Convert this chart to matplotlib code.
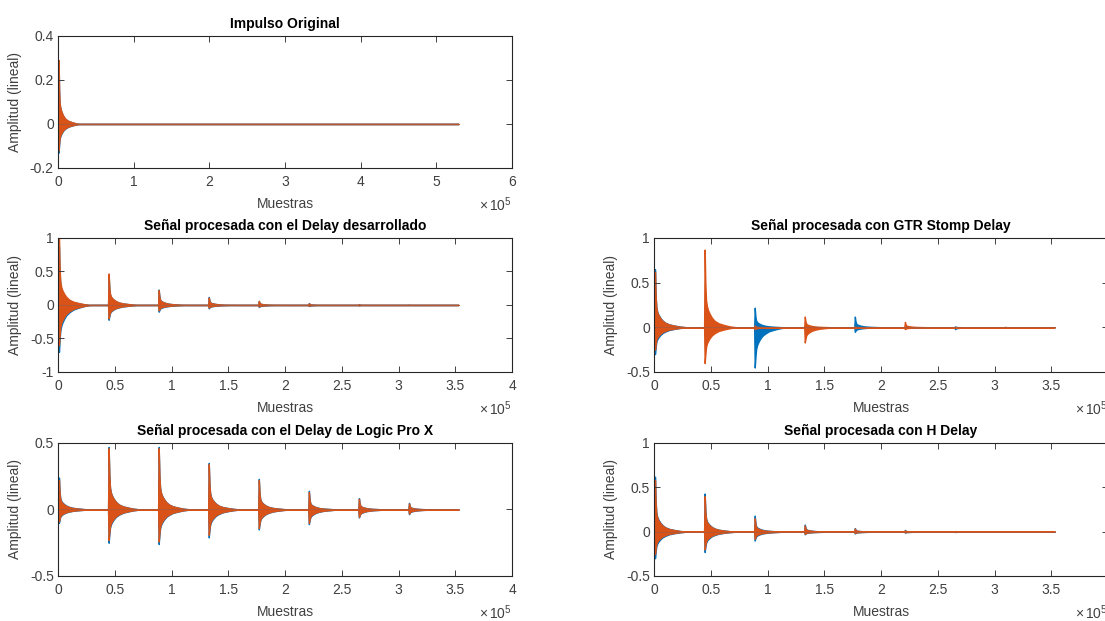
import numpy as np
import matplotlib
matplotlib.use('Agg')
import matplotlib.pyplot as plt
from matplotlib.ticker import FuncFormatter, MultipleLocator

plt.rcParams['font.family'] = ['Liberation Sans', 'DejaVu Sans']
plt.rcParams['axes.unicode_minus'] = False
plt.rcParams['mathtext.fontset'] = 'custom'
plt.rcParams['mathtext.rm'] = 'Liberation Sans'
plt.rcParams['mathtext.it'] = 'Liberation Sans'

BLUE = '#0072BD'
ORANGE = '#D95319'
TXT = '#404040'

# ---------------- data ----------------
# decay profile of one echo burst: offsets (samples after onset) and relative envelope
burst_offsets = [0, 600, 1200, 2000, 3000, 4500, 6500, 9000, 12500, 17000, 22000, 28000]
shape_up = [1.0, 0.55, 0.35, 0.27, 0.22, 0.17, 0.12, 0.08, 0.05, 0.03, 0.012, 0.0]
shape_lo = [1.0, 0.75, 0.55, 0.45, 0.38, 0.3, 0.22, 0.16, 0.1, 0.06, 0.025, 0.0]

echo_onsets = [800, 44600, 88700, 132800, 176900, 221000, 265100, 309200]
len_original = 529200
len_processed = 352800

# Impulso Original (single burst)
orig_blue_up = [0.28]
orig_blue_lo = [-0.13]
orig_orange_up = [0.29]
orig_orange_lo = [-0.12]

# Delay desarrollado
dev_blue_up = [0.87, 0.45, 0.23, 0.12, 0.06, 0.03, 0.012, 0.005]
dev_blue_lo = [-0.70, -0.22, -0.10, -0.05, -0.03, -0.015, -0.006, -0.003]
dev_orange_up = [1.00, 0.47, 0.22, 0.11, 0.06, 0.025, 0.01, 0.004]
dev_orange_lo = [-0.60, -0.20, -0.08, -0.04, -0.02, -0.01, -0.005, -0.002]

# Delay de Logic Pro X
logic_blue_up = [0.24, 0.47, 0.47, 0.35, 0.23, 0.14, 0.085, 0.05]
logic_blue_lo = [-0.10, -0.25, -0.26, -0.21, -0.15, -0.11, -0.06, -0.035]
logic_orange_up = [0.22, 0.46, 0.46, 0.34, 0.22, 0.13, 0.08, 0.045]
logic_orange_lo = [-0.09, -0.23, -0.24, -0.19, -0.14, -0.10, -0.055, -0.03]

# GTR Stomp Delay
gtr_blue_up = [0.65, 0.10, 0.22, 0.02, 0.12, 0.01, 0.01, 0.003]
gtr_blue_lo = [-0.30, -0.08, -0.45, -0.02, -0.05, -0.005, -0.02, -0.003]
gtr_orange_up = [0.62, 0.87, 0.02, 0.12, 0.01, 0.06, 0.005, 0.005]
gtr_orange_lo = [-0.25, -0.40, -0.02, -0.17, -0.01, -0.02, -0.005, -0.005]

# H Delay
hdel_blue_up = [0.62, 0.43, 0.18, 0.08, 0.04, 0.02, 0.006, 0.002]
hdel_blue_lo = [-0.30, -0.23, -0.10, -0.03, -0.02, -0.01, -0.004, -0.002]
hdel_orange_up = [0.58, 0.40, 0.15, 0.07, 0.035, 0.015, 0.005, 0.002]
hdel_orange_lo = [-0.25, -0.20, -0.08, -0.025, -0.015, -0.008, -0.003, -0.001]

titles = ['Impulso Original',
          'Señal procesada con el Delay desarrollado',
          'Señal procesada con GTR Stomp Delay',
          'Señal procesada con el Delay de Logic Pro X',
          'Señal procesada con H Delay']


def envelope(up_peaks, lo_peaks, length):
    xs, ups, los = [0], [0.0], [0.0]
    for onset, u, l in zip(echo_onsets, up_peaks, lo_peaks):
        xs.append(onset - 500)
        ups.append(0.0)
        los.append(0.0)
        for off, su, sl in zip(burst_offsets, shape_up, shape_lo):
            xs.append(onset + off)
            ups.append(u * su)
            los.append(l * sl)
    xs.append(length)
    ups.append(0.0)
    los.append(0.0)
    return np.array(xs), np.array(los), np.array(ups)


fig = plt.figure(figsize=(11.05, 6.21), dpi=100)

W = 0.4109
xl, xr = 0.0525, 0.5919
rows = [(0.7295, 0.2126), (0.401, 0.2158), (0.0725, 0.2142)]


def make_ax(x0, row, title, length, series, xmax, xstep, ylim, ystep):
    b, h = rows[row]
    ax = fig.add_axes([x0, b, W, h])
    for (up, lo, c) in series:
        x, l, u = envelope(up, lo, length)
        ax.fill_between(x, l, u, color=c, lw=1.0, edgecolor=c)
        ax.plot([0, length], [0, 0], color=c, lw=0.7, alpha=0.8)
    ax.set_xlim(0, xmax)
    ax.set_ylim(*ylim)
    ax.xaxis.set_major_locator(MultipleLocator(xstep))
    ax.yaxis.set_major_locator(MultipleLocator(ystep))
    ax.xaxis.set_major_formatter(FuncFormatter(lambda v, p: '%g' % (v / 1e5)))
    ax.yaxis.set_major_formatter(FuncFormatter(lambda v, p: '%g' % round(v, 3)))
    ax.tick_params(direction='in', top=True, right=True, length=4, width=0.7,
                   colors=TXT, labelsize=10)
    ax.tick_params(axis='x', pad=5)
    ax.tick_params(axis='y', pad=3)
    for s in ax.spines.values():
        s.set_color('#262626')
        s.set_linewidth(0.8)
    ax.set_title(title, fontsize=10, fontweight='bold', color='black', pad=6)
    ax.set_xlabel('Muestras', fontsize=10, color=TXT, labelpad=6)
    ax.set_ylabel('Amplitud (lineal)', fontsize=10, color=TXT, labelpad=6)
    ax.annotate(r'$\times\,10^{5}$', xy=(1, 0), xycoords='axes fraction',
                xytext=(0, -37), textcoords='offset pixels', ha='right', va='center',
                fontsize=10, color=TXT, annotation_clip=False)
    return ax


make_ax(xl, 0, titles[0], len_original,
        [(orig_blue_up, orig_blue_lo, BLUE), (orig_orange_up, orig_orange_lo, ORANGE)],
        6e5, 1e5, (-0.2, 0.4), 0.2)
make_ax(xl, 1, titles[1], len_processed,
        [(dev_blue_up, dev_blue_lo, BLUE), (dev_orange_up, dev_orange_lo, ORANGE)],
        4e5, 0.5e5, (-1, 1), 0.5)
make_ax(xr, 1, titles[2], len_processed,
        [(gtr_blue_up, gtr_blue_lo, BLUE), (gtr_orange_up, gtr_orange_lo, ORANGE)],
        4e5, 0.5e5, (-0.5, 1), 0.5)
make_ax(xl, 2, titles[3], len_processed,
        [(logic_blue_up, logic_blue_lo, BLUE), (logic_orange_up, logic_orange_lo, ORANGE)],
        4e5, 0.5e5, (-0.5, 0.5), 0.5)
make_ax(xr, 2, titles[4], len_processed,
        [(hdel_blue_up, hdel_blue_lo, BLUE), (hdel_orange_up, hdel_orange_lo, ORANGE)],
        4e5, 0.5e5, (-0.5, 1), 0.5)

fig.savefig('out.png', dpi=100)
